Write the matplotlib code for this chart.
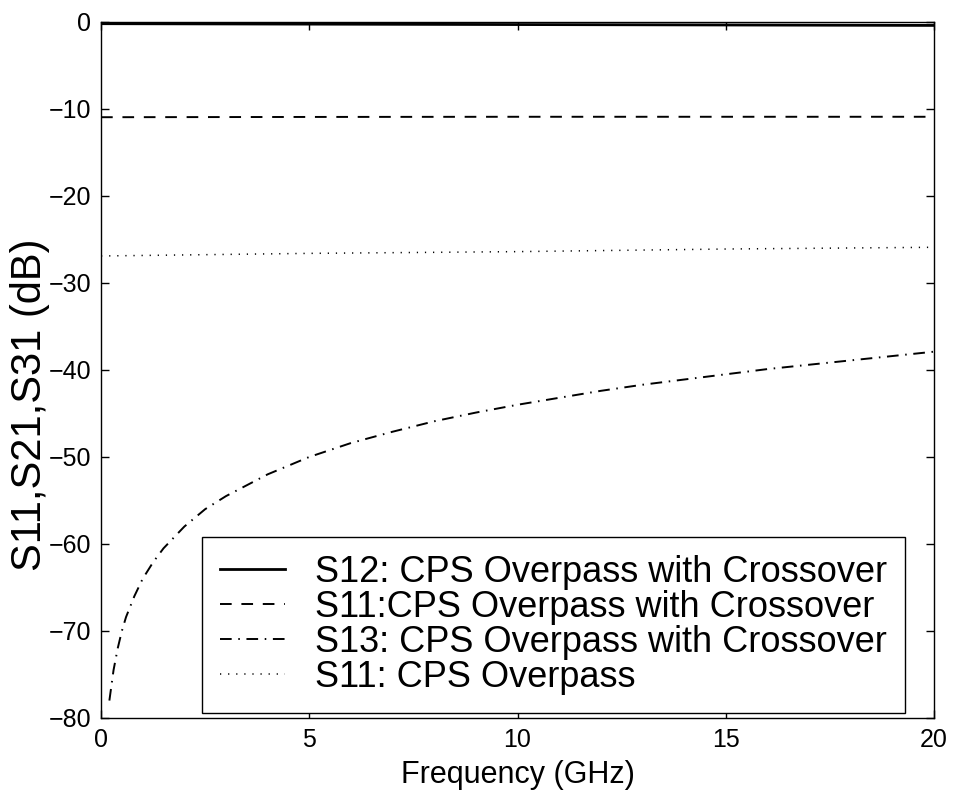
import matplotlib
matplotlib.use("Agg")
import matplotlib.pyplot as plt

plt.rcParams["font.family"] = ["Liberation Sans", "DejaVu Sans"]

# Frequency sweep (GHz) and S-parameter magnitudes (dB)
freq_flat = [0, 5, 10, 15, 20]
s12_crossover = [-0.2, -0.25, -0.3, -0.35, -0.4]
s11_crossover = [-10.95, -10.92, -10.9, -10.9, -10.9]
s11_overpass = [-26.9, -26.6, -26.4, -26.1, -25.9]

freq_s13 = [0.2, 0.3, 0.4, 0.5, 0.6, 0.8, 1.0, 1.25, 1.5, 2.0, 2.5, 3.0, 4.0,
            5.0, 6.0, 7.0, 8.0, 9.0, 10.0, 11.0, 12.0, 13.0, 14.0, 15.0,
            16.0, 17.0, 18.0, 19.0, 20.0]
s13_crossover = [-78.0, -74.5, -72.0, -70.0, -68.4, -66.0, -64.0, -62.1,
                 -60.5, -58.0, -56.0, -54.5, -52.0, -50.0, -48.4, -47.1,
                 -45.9, -44.9, -44.0, -43.2, -42.4, -41.7, -41.1, -40.5,
                 -39.9, -39.4, -38.9, -38.4, -37.9]

legend_labels = [
    "S12: CPS Overpass with Crossover",
    "S11:CPS Overpass with Crossover",
    "S13: CPS Overpass with Crossover",
    "S11: CPS Overpass",
]
x_ticks = [0, 5, 10, 15, 20]
y_ticks = [0, -10, -20, -30, -40, -50, -60, -70, -80]

fig = plt.figure(figsize=(9.56, 7.98), dpi=100)
ax = fig.add_axes([0.1057, 0.1003, 0.8713, 0.8722])

lw = 1.4
ax.plot(freq_flat, s12_crossover, color="black", lw=2.0, linestyle="-",
        label=legend_labels[0])
ax.plot(freq_flat, s11_crossover, color="black", lw=lw,
        linestyle=(0, (6, 5)), label=legend_labels[1])
ax.plot(freq_s13, s13_crossover, color="black", lw=lw,
        linestyle=(0, (6, 3.4, 0.8, 3.4)), label=legend_labels[2])
ax.plot(freq_flat, s11_overpass, color="black", lw=1.1,
        linestyle=(0, (0.8, 4.5)), label=legend_labels[3])

ax.set_xlim(0, 20)
ax.set_ylim(-80, 0)
ax.set_xticks(x_ticks)
ax.set_yticks(y_ticks)
ax.tick_params(direction="in", length=6, width=1, top=True, right=True,
               labelsize=18, pad=7)
for sp in ax.spines.values():
    sp.set_linewidth(1.0)

ax.set_xlabel("Frequency (GHz)", fontsize=22, labelpad=6)
ax.set_ylabel("S11,S21,S31 (dB)", fontsize=30)
ax.yaxis.set_label_coords(-0.061, 0.45)

leg = ax.legend(loc="lower right", bbox_to_anchor=(0.965, 0.007),
                borderaxespad=0, fontsize=26, frameon=True, fancybox=False,
                edgecolor="black", framealpha=1, handlelength=1.8,
                handletextpad=0.83, labelspacing=0.0, borderpad=0.5)
leg.get_frame().set_linewidth(1.0)

fig.savefig("out.png", dpi=100)
